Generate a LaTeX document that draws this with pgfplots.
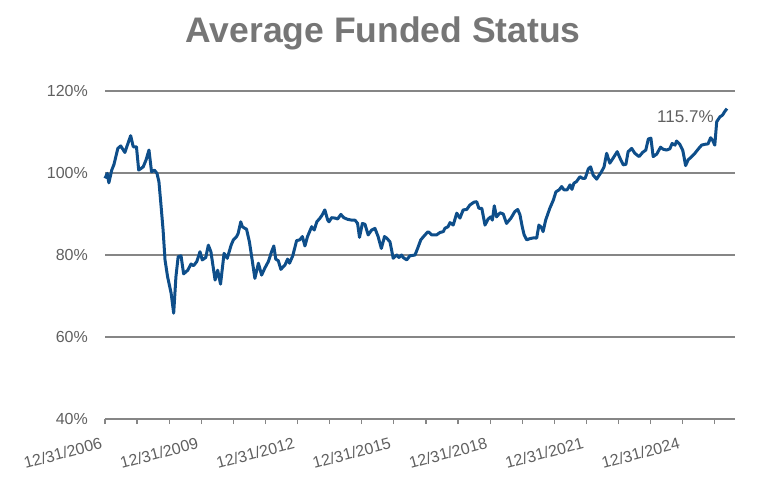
\documentclass[border=0pt]{standalone}
\usepackage{fontspec}
\setmainfont{Liberation Sans}
\usepackage{pgfplots}
\pgfplotsset{compat=1.18}
\definecolor{lineblue}{RGB}{14,78,138}
\definecolor{gridgray}{RGB}{134,134,134}
\definecolor{labgray}{RGB}{96,96,96}
\definecolor{titlegray}{RGB}{118,118,118}
\begin{document}
\begin{tikzpicture}
\useasboundingbox (0,0) rectangle (768bp,483bp);
\node[anchor=base, text=titlegray, font=\fontsize{35.5bp}{38bp}\selectfont\bfseries, inner sep=0pt] at (383bp,440.5bp) {Average Funded Status};
\begin{axis}[
  at={(105bp,64bp)}, anchor=south west,
  scale only axis, width=630bp, height=328bp,
  xmin=0, xmax=19.63, ymin=40, ymax=120,
  clip=false,
  axis lines*=left,
  y axis line style={draw=none},
  x axis line style={gridgray, line width=1.4bp},
  ytick={40,60,80,100,120},
  yticklabels={40\%,60\%,80\%,100\%,120\%},
  ytick style={draw=none},
  ymajorgrids,
  grid style={gridgray, line width=1.4bp},
  xtick={0,3,...,18},
  minor xtick={1,2,4,5,7,8,10,11,13,14,16,17,19},
  xticklabels={12/31/2006,12/31/2009,12/31/2012,12/31/2015,12/31/2018,12/31/2021,12/31/2024},
  tick align=outside,
  major tick length=5bp,
  minor tick length=5bp,
  xtick style={gridgray, line width=1.2bp},
  minor x tick style={gridgray, line width=1.2bp},
  /pgf/number format/assume math mode=true,
  tick label style={text=labgray, font=\fontsize{16bp}{18bp}\selectfont},
  yticklabel style={anchor=east, inner sep=0pt, xshift=-12bp},
  xticklabel style={rotate=15, anchor=north east, inner sep=0pt, yshift=-11bp, xshift=-8bp},
]
\addplot[lineblue, line width=3bp, line join=round] coordinates {
(0.00,98.7) (0.07,99.9) (0.12,97.6) (0.21,100.7) (0.28,102.1) (0.40,106.0) (0.49,106.6) (0.62,105.0)
(0.71,107.1) (0.80,109.1) (0.88,106.4) (0.98,106.4) (1.05,100.7) (1.19,101.5) (1.28,103.2) (1.37,105.6)
(1.45,100.3) (1.54,100.7) (1.62,99.9) (1.68,97.9) (1.74,92.6) (1.81,86.1) (1.87,78.8) (1.95,74.7)
(2.06,70.7) (2.14,65.8) (2.21,74.7) (2.28,79.6) (2.37,79.8) (2.45,75.4) (2.58,76.3) (2.68,77.8)
(2.76,77.4) (2.86,78.4) (2.96,80.8) (3.03,78.8) (3.14,79.4) (3.22,82.4) (3.30,80.8) (3.43,73.9)
(3.51,76.3) (3.60,72.9) (3.71,80.4) (3.81,79.2) (3.93,82.4) (4.00,83.7) (4.10,84.5) (4.15,85.3)
(4.23,88.1) (4.28,86.9) (4.36,86.5) (4.41,86.3) (4.50,83.2) (4.57,79.6) (4.67,74.3) (4.78,78.0)
(4.88,75.1) (4.98,76.8) (5.09,78.4) (5.19,80.8) (5.26,82.2) (5.32,79.0) (5.40,78.6) (5.48,76.5)
(5.61,77.6) (5.69,79.0) (5.75,78.0) (5.85,79.8) (5.97,83.5) (6.07,83.7) (6.15,84.5) (6.23,82.2)
(6.31,84.5) (6.44,86.9) (6.52,86.1) (6.60,88.1) (6.70,89.0) (6.77,89.8) (6.85,91.0) (6.94,88.5)
(6.98,88.1) (7.06,89.1) (7.17,89.0) (7.25,88.8) (7.35,89.9) (7.44,89.1) (7.56,88.7) (7.69,88.5)
(7.79,88.5) (7.87,87.7) (7.93,84.3) (8.02,87.7) (8.10,87.5) (8.20,84.9) (8.31,86.1) (8.41,86.5)
(8.51,84.5) (8.61,81.6) (8.71,84.5) (8.78,84.1) (8.88,83.2) (8.98,79.2) (9.09,80.0) (9.16,79.4)
(9.24,80.0) (9.29,79.4) (9.40,78.8) (9.50,79.8) (9.66,80.0) (9.74,81.6) (9.84,83.7) (9.97,84.9)
(10.07,85.7) (10.18,84.9) (10.33,84.9) (10.44,85.5) (10.54,85.7) (10.59,86.5) (10.69,86.9) (10.75,87.9)
(10.85,87.3) (10.96,90.2) (11.06,89.0) (11.16,91.0) (11.27,91.1) (11.37,92.2) (11.50,92.9) (11.58,93.0)
(11.65,91.4) (11.74,91.4) (11.84,87.3) (11.94,88.8) (12.02,89.3) (12.07,88.5) (12.13,92.0) (12.20,89.3)
(12.31,90.3) (12.41,90.0) (12.51,87.7) (12.65,89.0) (12.77,90.6) (12.86,91.1) (12.93,89.8) (13.00,86.9)
(13.06,84.9) (13.14,83.7) (13.24,84.0) (13.37,84.2) (13.45,84.1) (13.52,87.3) (13.60,86.7) (13.65,85.7)
(13.73,88.5) (13.81,90.3) (13.86,91.4) (13.97,93.4) (14.05,95.4) (14.15,95.9) (14.23,96.7) (14.30,95.9)
(14.40,95.9) (14.49,97.1) (14.55,96.0) (14.61,97.5) (14.69,97.9) (14.80,99.1) (14.88,98.7) (14.96,98.7)
(15.06,101.0) (15.13,101.5) (15.21,99.5) (15.32,98.5) (15.40,99.5) (15.47,100.3) (15.55,101.5) (15.63,104.8)
(15.73,102.4) (15.83,103.6) (15.96,105.2) (16.07,103.2) (16.15,102.0) (16.23,102.1) (16.30,105.2) (16.41,106.0)
(16.51,104.8) (16.64,104.0) (16.75,105.0) (16.85,105.6) (16.93,108.3) (17.01,108.5) (17.08,104.0) (17.19,104.6)
(17.31,106.3) (17.39,105.8) (17.50,105.6) (17.60,105.9) (17.67,107.2) (17.76,106.8) (17.81,107.8) (17.91,107.0)
(18.00,105.6) (18.04,104.0) (18.09,101.8) (18.17,103.2) (18.28,104.0) (18.38,104.8) (18.48,105.8) (18.59,106.8)
(18.69,107.0) (18.79,107.1) (18.87,108.6) (18.93,108.0) (19.00,106.8) (19.06,112.5) (19.16,113.7) (19.24,114.1)
(19.31,115.0) (19.38,115.7)
};
\node[anchor=base east, inner sep=0pt, text=labgray, font=\fontsize{17bp}{19bp}\selectfont] at (axis cs:18.97,112.3) {115.7\%};
\end{axis}
\end{tikzpicture}
\end{document}
